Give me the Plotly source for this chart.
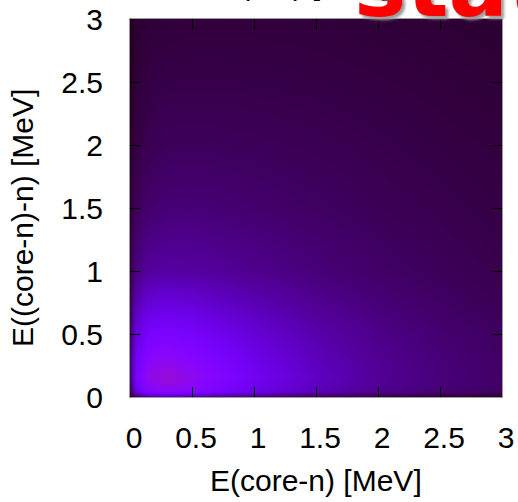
import math
import plotly.graph_objects as go

# Energy grid (MeV) for the two-neutron correlation map
e_core_n = [0.0, 0.05, 0.15, 0.3, 0.5, 0.75, 1.0, 1.5, 2.0, 2.5, 3.0]
e_corenn = [0.0, 0.05, 0.15, 0.3, 0.5, 0.75, 1.0, 1.5, 2.0, 2.5, 3.0]

# Relative intensity, one row per E((core-n)-n) value
intensity = [
    [0.02, 0.06, 0.09, 0.10, 0.09, 0.08, 0.07, 0.05, 0.04, 0.032, 0.026],
    [0.06, 0.17, 0.26, 0.29, 0.27, 0.22, 0.18, 0.13, 0.095, 0.075, 0.062],
    [0.08, 0.22, 0.32, 0.35, 0.31, 0.25, 0.20, 0.14, 0.10, 0.08, 0.066],
    [0.08, 0.20, 0.28, 0.30, 0.27, 0.225, 0.185, 0.13, 0.097, 0.077, 0.064],
    [0.07, 0.165, 0.225, 0.235, 0.22, 0.19, 0.16, 0.118, 0.09, 0.072, 0.06],
    [0.055, 0.125, 0.16, 0.17, 0.16, 0.142, 0.125, 0.097, 0.077, 0.064, 0.054],
    [0.045, 0.085, 0.105, 0.11, 0.108, 0.102, 0.094, 0.078, 0.066, 0.057, 0.049],
    [0.033, 0.058, 0.07, 0.076, 0.077, 0.074, 0.07, 0.063, 0.055, 0.049, 0.043],
    [0.026, 0.043, 0.053, 0.058, 0.059, 0.058, 0.057, 0.053, 0.048, 0.043, 0.039],
    [0.02, 0.036, 0.043, 0.046, 0.047, 0.047, 0.046, 0.044, 0.041, 0.038, 0.035],
    [0.02, 0.03, 0.035, 0.037, 0.038, 0.038, 0.038, 0.037, 0.035, 0.033, 0.03],
]

tick_vals = [0, 0.5, 1, 1.5, 2, 2.5, 3]
tick_text = ["0", "0.5", "1", "1.5", "2", "2.5", "3"]


# gnuplot-style default palette (rgbformulae 7,5,15)
def palette(n=41):
    scale = []
    for i in range(n):
        t = i / (n - 1)
        r = math.sqrt(t)
        g = t ** 3
        b = max(0.0, math.sin(2 * math.pi * t))
        scale.append([t, f"rgb({round(255*r)},{round(255*g)},{round(255*b)})"])
    return scale


fig = go.Figure(
    go.Heatmap(
        x=e_core_n,
        y=e_corenn,
        z=intensity,
        zmin=0,
        zmax=1,
        zsmooth="best",
        colorscale=palette(),
        showscale=False,
        hoverinfo="skip",
    )
)

font_family = "Liberation Sans, Arial, sans-serif"
axis_common = dict(
    range=[0, 3],
    tickvals=tick_vals,
    ticktext=tick_text,
    ticks="inside",
    ticklen=10,
    tickwidth=1,
    tickcolor="black",
    showline=True,
    linecolor="#9a9a9a",
    linewidth=1,
    mirror="allticks",
    showgrid=False,
    zeroline=False,
    automargin=False,
    tickfont=dict(family=font_family, size=30, color="black"),
)

fig.update_xaxes(**axis_common, ticklabelstandoff=14, ticklabelshift=4)
fig.update_yaxes(**axis_common, ticklabelstandoff=20)

fig.update_layout(
    width=518,
    height=502,
    margin=dict(l=130, r=16, t=19, b=105, autoexpand=False),
    paper_bgcolor="white",
    plot_bgcolor="white",
    showlegend=False,
    annotations=[
        dict(
            text="E(core-n) [MeV]",
            xref="paper", yref="paper", x=0.5, y=0,
            xanchor="center", yanchor="middle", yshift=-83,
            showarrow=False,
            font=dict(family=font_family, size=30, color="black"),
        ),
        dict(
            text="E((core-n)-n) [MeV]",
            xref="paper", yref="paper", x=0, y=0.5,
            xanchor="center", yanchor="middle", xshift=-108, yshift=-10,
            textangle=-90,
            showarrow=False,
            font=dict(family=font_family, size=30, color="black"),
        ),
        dict(
            text="E(n-n) [MeV]",
            xref="paper", yref="paper", x=0.47, y=1,
            xanchor="center", yanchor="bottom", yshift=16,
            showarrow=False,
            font=dict(family=font_family, size=30, color="black"),
        ),
        dict(
            text="<b>state</b>",
            xref="paper", yref="paper", x=0.597, y=1,
            xanchor="left", yanchor="bottom", yshift=-20,
            showarrow=False,
            font=dict(family="DejaVu Sans, sans-serif", size=88, color="#ff0000",
                      shadow="3px 3px 3px #9a9a9a"),
        ),
    ],
)

fig.write_html("out.html")
